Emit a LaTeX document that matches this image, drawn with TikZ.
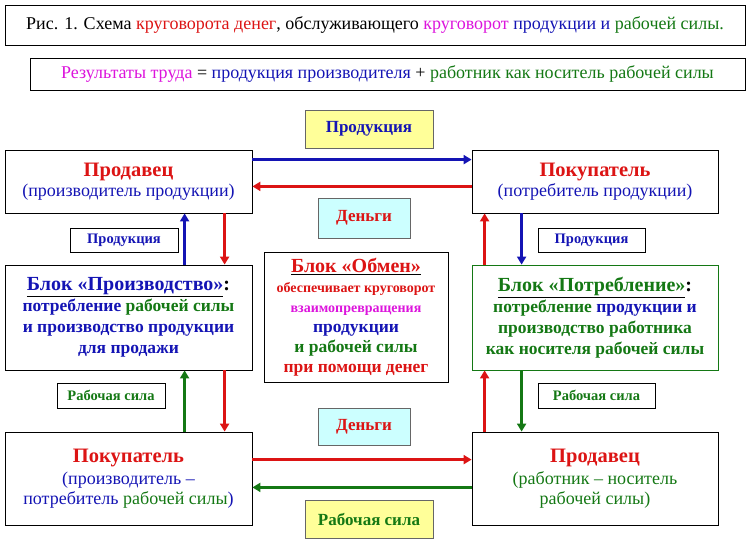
\documentclass[tikz,border=0pt]{standalone}
\usepackage{fontspec}
\setmainfont{Liberation Serif}
\usetikzlibrary{arrows.meta}
\definecolor{rd}{RGB}{220,20,20}
\definecolor{bl}{RGB}{20,20,180}
\definecolor{gr}{RGB}{20,120,20}
\definecolor{mg}{RGB}{220,20,220}
\definecolor{yl}{RGB}{255,255,153}
\definecolor{cy}{RGB}{204,255,255}
\begin{document}
\begin{tikzpicture}[x=1pt,y=-1pt,
  box/.style={draw=black,line width=0.8pt,inner sep=0pt,align=center,font=\fontsize{18}{20}\selectfont},
  arr/.style={line width=3pt,-{Triangle[length=8pt,width=9pt]}}]
\useasboundingbox (0,0) rectangle (752,546);
\newcommand\bx[6]{\node[box,#6,minimum width={(#3)-(#1)},minimum height={(#4)-(#2)}] (#5) at ({((#1)+(#3))/2},{((#2)+(#4))/2})}
\bx{5}{5}{745}{45}{t}{}{Рис. 1. Схема \textcolor{rd}{круговорота денег}, обслуживающего \textcolor{mg}{круговорот} \textcolor{bl}{продукции и} \textcolor{gr}{рабочей силы.}};
\bx{30}{58}{745}{90}{r}{}{\textcolor{mg}{Результаты труда} = \textcolor{bl}{продукция производителя} + \textcolor{gr}{работник как носитель рабочей силы}};
\bx{305}{110}{433}{148}{p1}{fill=yl,draw=black!60,font=\fontsize{17}{20}\selectfont}{\textbf{\textcolor{bl}{Продукция}}};
\bx{5}{150}{252}{213}{s1}{}{{\fontsize{20.5}{23}\selectfont\bfseries\textcolor{rd}{Продавец}}\\\textcolor{bl}{(производитель продукции)}};
\bx{472}{150}{718}{213}{b1}{}{{\fontsize{20.5}{23}\selectfont\bfseries\textcolor{rd}{Покупатель}}\\\textcolor{bl}{(потребитель продукции)}};
\bx{318}{198}{410}{238}{d1}{fill=cy,draw=black!60,font=\fontsize{17}{20}\selectfont}{\textbf{\textcolor{rd}{Деньги}}};
\bx{70}{228}{178}{252}{p2}{font=\fontsize{14.5}{16}\selectfont\bfseries}{\textcolor{bl}{Продукция}};
\bx{538}{228}{645}{252}{p3}{font=\fontsize{14.5}{16}\selectfont\bfseries}{\textcolor{bl}{Продукция}};
\bx{5}{265}{252}{370}{bp}{font=\fontsize{17.5}{21}\selectfont\bfseries}{{\fontsize{20}{23}\selectfont\underline{\textcolor{bl}{Блок «Производство»}}:}\\\textcolor{bl}{потребление} \textcolor{gr}{рабочей силы}\\\textcolor{bl}{и производство продукции}\\\textcolor{bl}{для продажи}};
\bx{264}{252}{448}{382}{c}{font=\fontsize{17.5}{20}\selectfont\bfseries}{{\fontsize{20}{23}\selectfont\underline{\textcolor{rd}{Блок «Обмен»}}}\\{\fontsize{14}{17}\selectfont\textcolor{rd}{обеспечивает круговорот}}\\{\fontsize{14}{17}\selectfont\textcolor{mg}{взаимопревращения}}\\\textcolor{bl}{продукции}\\\textcolor{gr}{и рабочей силы}\\\textcolor{rd}{при помощи денег}};
\bx{472}{265}{718}{370}{bc}{draw=gr,font=\fontsize{17.5}{21}\selectfont\bfseries}{{\fontsize{20}{23}\selectfont\underline{\textcolor{gr}{Блок «Потребление»}}:}\\\textcolor{gr}{потребление} \textcolor{bl}{продукции и}\\\textcolor{gr}{производство работника}\\\textcolor{gr}{как носителя рабочей силы}};
\bx{57}{383}{165}{408}{w1}{font=\fontsize{14.5}{16}\selectfont\bfseries}{\textcolor{gr}{Рабочая сила}};
\bx{538}{383}{655}{408}{w2}{font=\fontsize{14.5}{16}\selectfont\bfseries}{\textcolor{gr}{Рабочая сила}};
\bx{318}{408}{410}{445}{d2}{fill=cy,draw=black!60,font=\fontsize{17}{20}\selectfont}{\textbf{\textcolor{rd}{Деньги}}};
\bx{5}{432}{252}{525}{b2}{}{{\fontsize{20.5}{23}\selectfont\bfseries\textcolor{rd}{Покупатель}}\\[2pt]\textcolor{bl}{(производитель –}\\\textcolor{bl}{потребитель} \textcolor{gr}{рабочей силы}\textcolor{bl}{)}};
\bx{472}{432}{718}{525}{s2}{}{{\fontsize{20.5}{23}\selectfont\bfseries\textcolor{rd}{Продавец}}\\[2pt]\textcolor{gr}{(работник – носитель}\\\textcolor{gr}{рабочей силы)}};
\bx{305}{500}{433}{538}{w3}{fill=yl,draw=black!60,font=\fontsize{17}{20}\selectfont}{\textbf{\textcolor{gr}{Рабочая сила}}};
% horizontal
\draw[arr,bl] ([yshift=-10]s1.north east) -- ([yshift=-10]b1.north west);
\draw[arr,rd] ([yshift=27]b1.south west) -- ([yshift=27]s1.south east);
\draw[arr,rd] ([yshift=-28]b2.north east) -- ([yshift=-28]s2.north west);
\draw[arr,gr] ([yshift=38]s2.south west) -- ([yshift=38]b2.south east);
% left verticals
\draw[arr,bl] ([xshift=180]bp.north west) -- ([xshift=180]s1.south west);
\draw[arr,rd] ([xshift=220]s1.south west) -- ([xshift=220]bp.north west);
\draw[arr,gr] ([xshift=180]b2.north west) -- ([xshift=180]bp.south west);
\draw[arr,rd] ([xshift=220]bp.south west) -- ([xshift=220]b2.north west);
% right verticals
\draw[arr,rd] ([xshift=13]bc.north west) -- ([xshift=13]b1.south west);
\draw[arr,bl] ([xshift=50]b1.south west) -- ([xshift=50]bc.north west);
\draw[arr,rd] ([xshift=13]s2.north west) -- ([xshift=13]bc.south west);
\draw[arr,gr] ([xshift=50]bc.south west) -- ([xshift=50]s2.north west);
\end{tikzpicture}
\end{document}
